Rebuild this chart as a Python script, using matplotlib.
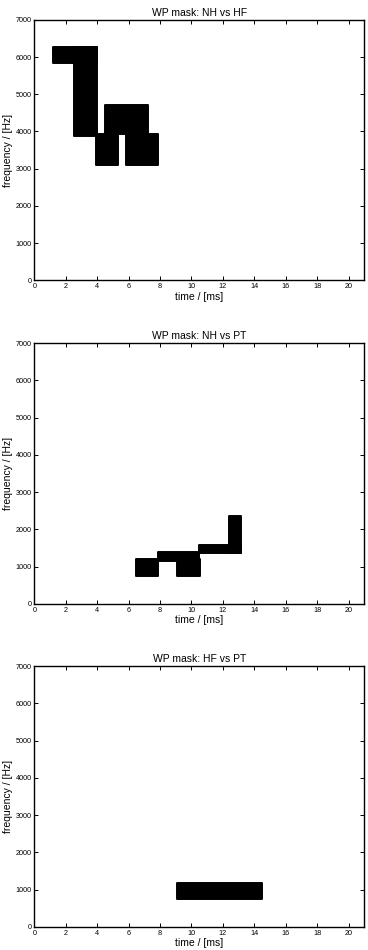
import matplotlib
matplotlib.use("Agg")
import matplotlib.pyplot as plt
from matplotlib.patches import Rectangle

plt.rcParams['font.family'] = ['Liberation Sans', 'DejaVu Sans']

titles = ["WP mask: NH vs HF", "WP mask: NH vs PT", "WP mask: HF vs PT"]

# mask tiles: (t_start ms, t_end ms, f_low Hz, f_high Hz)
tiles_nh_hf = [
    (1.2, 4.0, 5850, 6270),
    (2.5, 4.0, 3890, 6270),
    (3.9, 5.3, 3110, 3920),
    (4.5, 7.25, 3920, 4710),
    (5.85, 7.9, 3110, 3920),
]
tiles_nh_pt = [
    (6.5, 7.9, 740, 1200),
    (7.85, 10.5, 1160, 1380),
    (9.1, 10.55, 740, 1200),
    (10.45, 13.15, 1350, 1570),
    (12.4, 13.15, 1350, 2360),
]
tiles_hf_pt = [
    (9.1, 14.5, 750, 1175),
]
all_tiles = [tiles_nh_hf, tiles_nh_pt, tiles_hf_pt]

x_ticks = list(range(0, 21, 2))
y_ticks = list(range(0, 7001, 1000))

fig = plt.figure(figsize=(3.68, 9.5), dpi=100)
bottoms = [0.7049, 0.3645, 0.0245]
for title, tiles, b in zip(titles, all_tiles, bottoms):
    ax = fig.add_axes([0.0932, b, 0.8967, 0.2742])
    for (t0, t1, f0, f1) in tiles:
        ax.add_patch(Rectangle((t0, f0), t1 - t0, f1 - f0, facecolor='black',
                               edgecolor='black', linewidth=1.4, joinstyle='round'))
    ax.set_xlim(0, 21)
    ax.set_ylim(0, 7000)
    ax.set_xticks(x_ticks)
    ax.set_yticks(y_ticks)
    ax.tick_params(direction='in', length=3, width=0.7, labelsize=5.2,
                   top=True, right=True, pad=2)
    for s in ax.spines.values():
        s.set_linewidth(1.0)
    ax.set_title(title, fontsize=7.5, pad=3)
    ax.set_xlabel("time / [ms]", fontsize=7.5, labelpad=1)
    ax.set_ylabel("frequency / [Hz]", fontsize=7.5, labelpad=2)

fig.savefig("out.png", dpi=100)
